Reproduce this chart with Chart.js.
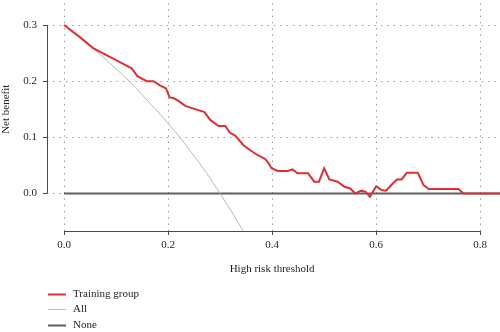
<!DOCTYPE html>
<html><head><meta charset="utf-8">
<script src="https://cdn.jsdelivr.net/npm/chart.js@4.4.1/dist/chart.umd.min.js"></script>
<style>html,body{margin:0;padding:0;background:#fff}canvas{display:block}</style>
</head><body>
<canvas id="c" width="500" height="332"></canvas>
<script>
// ---- data ----
const thresholds = [0.000,0.031,0.056,0.089,0.111,0.130,0.141,0.159,0.172,0.185,0.196,0.203,0.210,0.220,0.233,0.246,0.270,0.281,0.297,0.310,0.319,0.329,0.345,0.358,0.371,0.387,0.393,0.399,0.411,0.430,0.439,0.449,0.469,0.481,0.490,0.500,0.510,0.526,0.539,0.550,0.560,0.571,0.580,0.588,0.600,0.610,0.619,0.629,0.640,0.649,0.659,0.680,0.691,0.701,0.758,0.768,0.840];
const trainingBenefit = [0.300,0.278,0.259,0.243,0.232,0.223,0.209,0.200,0.200,0.192,0.187,0.171,0.170,0.165,0.156,0.152,0.145,0.131,0.120,0.120,0.108,0.103,0.086,0.077,0.069,0.061,0.054,0.045,0.040,0.040,0.043,0.036,0.036,0.021,0.021,0.045,0.025,0.021,0.012,0.009,0.000,0.005,0.003,-0.006,0.013,0.006,0.005,0.015,0.025,0.025,0.037,0.037,0.015,0.008,0.008,0.000,0.000];
const allThresholds = [0.000,0.025,0.050,0.075,0.100,0.125,0.150,0.175,0.200,0.225,0.250,0.275,0.300,0.325,0.345];
const allBenefit = [0.300,0.282,0.263,0.243,0.222,0.200,0.176,0.151,0.125,0.097,0.067,0.035,0.000,-0.037,-0.068];
const noneThresholds = [0.00,0.84];
const noneBenefit = [0,0];
const xTicks = [0,0.2,0.4,0.6,0.8];
const yTicks = [0,0.1,0.2,0.3];
const seriesLabels = ['Training group','All','None'];
const seriesColors = ['#dc3035','#b9b9b9','#5e5e5e'];
const seriesWidths = [2,1,2];
const xTitle = 'High risk threshold';
const yTitle = 'Net benefit';

const FONT = '"Liberation Serif", "Times New Roman", serif';
const TEXT = '#1e1e1e';
const AXIS = '#4a4a4a';

const pts = (xs, ys) => xs.map((v, i) => ({x: v, y: ys[i]}));

const decor = {
  id: 'decor',
  afterDraw(chart) {
    const ctx = chart.ctx;
    const ca = chart.chartArea;
    const sx = chart.scales.x, sy = chart.scales.y;
    ctx.save();
    ctx.setLineDash([]);
    ctx.globalAlpha = 1;
    ctx.globalCompositeOperation = 'source-over';
    const yTop = sy.getPixelForValue(yTicks[yTicks.length - 1]);
    const yBot = sy.getPixelForValue(yTicks[0]);
    const xL = sx.getPixelForValue(xTicks[0]);
    const xR = sx.getPixelForValue(xTicks[xTicks.length - 1]);
    ctx.strokeStyle = 'rgb(74,74,74)';
    ctx.lineWidth = 1;
    ctx.beginPath();
    ctx.moveTo(Math.round(ca.left) + 0.5, yTop);
    ctx.lineTo(Math.round(ca.left) + 0.5, yBot);
    ctx.stroke();
    ctx.beginPath();
    ctx.moveTo(xL, Math.round(ca.bottom) + 0.5);
    ctx.lineTo(xR, Math.round(ca.bottom) + 0.5);
    ctx.stroke();
    // axis titles
    ctx.fillStyle = TEXT;
    ctx.font = '11px ' + FONT;
    ctx.textAlign = 'center'; ctx.textBaseline = 'middle';
    ctx.fillText(xTitle, (xL + xR) / 2, ca.bottom + 38.5);
    ctx.save();
    ctx.translate(6.5, (yTop + yBot) / 2);
    ctx.rotate(-Math.PI / 2);
    ctx.fillText(yTitle, 0, 0);
    ctx.restore();
    // legend
    chart.data.datasets.forEach((ds, i) => {
      const ly = Math.round(ca.bottom + 62.5 + i * 15.5) + 0.5;
      ctx.strokeStyle = ds.borderColor; ctx.lineWidth = ds.borderWidth;
      ctx.beginPath(); ctx.moveTo(ca.left + 1, ly); ctx.lineTo(ca.left + 19, ly); ctx.stroke();
      ctx.fillStyle = TEXT;
      ctx.textAlign = 'left';
      ctx.fillText(ds.label, ca.left + 26, ly);
    });
    ctx.restore();
  }
};

new Chart(document.getElementById('c'), {
  type: 'scatter',
  data: {
    datasets: [
      {label: seriesLabels[0], data: pts(thresholds, trainingBenefit), borderColor: seriesColors[0], borderWidth: seriesWidths[0], showLine: true, pointRadius: 0, tension: 0},
      {label: seriesLabels[1], data: pts(allThresholds, allBenefit), borderColor: seriesColors[1], borderWidth: seriesWidths[1], showLine: true, pointRadius: 0, cubicInterpolationMode: 'monotone'},
      {label: seriesLabels[2], data: pts(noneThresholds, noneBenefit), borderColor: seriesColors[2], borderWidth: seriesWidths[2], showLine: true, pointRadius: 0}
    ]
  },
  options: {
    responsive: false, animation: false, devicePixelRatio: 1,
    layout: {padding: {top: 3, right: 0, left: 0, bottom: 0}},
    plugins: {legend: {display: false}, tooltip: {enabled: false}},
    scales: {
      x: {
        type: 'linear', min: -0.0327, max: 0.838,
        afterFit: s => { s.height = 101; s.paddingLeft = 0; s.paddingRight = 0; },
        afterBuildTicks: s => { s.ticks = xTicks.map(v => ({value: v})); },
        grid: {color: '#9a9a9a', lineWidth: 1, drawTicks: true, tickLength: 4, tickColor: AXIS, tickWidth: 1, tickBorderDash: []},
        border: {display: false, dash: [1.5, 4.8]},
        ticks: {autoSkip: false, maxRotation: 0, padding: 4, color: TEXT, font: {family: FONT, size: 11}, callback: v => Number(v).toFixed(1)}
      },
      y: {
        type: 'linear', min: -0.0668, max: 0.3392,
        afterFit: s => { s.width = 47; s.paddingTop = 0; s.paddingBottom = 0; },
        afterBuildTicks: s => { s.ticks = yTicks.map(v => ({value: v})); },
        grid: {color: '#9a9a9a', lineWidth: 1, drawTicks: true, tickLength: 4, tickColor: AXIS, tickWidth: 1, tickBorderDash: []},
        border: {display: false, dash: [1.5, 4.8]},
        ticks: {autoSkip: false, padding: 6, color: TEXT, font: {family: FONT, size: 11}, callback: v => Number(v).toFixed(1)}
      }
    }
  },
  plugins: [decor]
});
</script>
</body></html>
